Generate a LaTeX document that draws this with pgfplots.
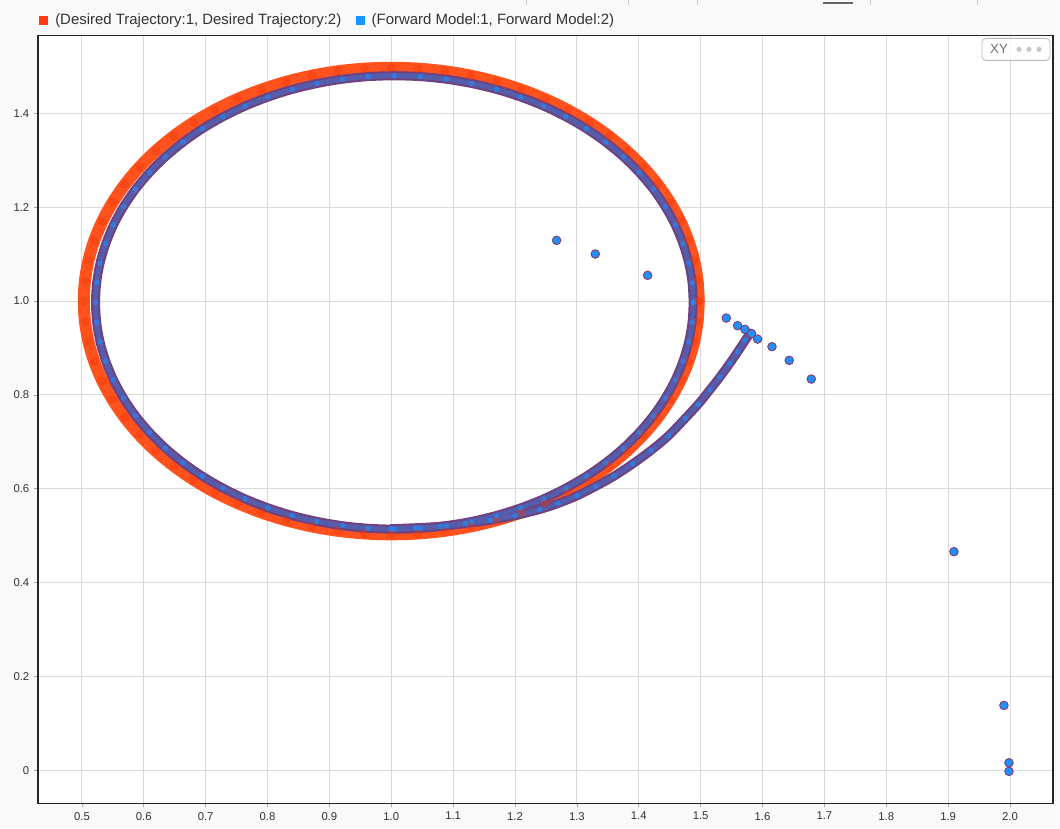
\documentclass[border=0pt]{standalone}
\usepackage{pgfplots}
\pgfplotsset{compat=1.18}
\usepackage{fontspec}
\setmainfont{Liberation Sans}
\definecolor{figbg}{RGB}{249,249,249}
\definecolor{gridc}{RGB}{217,217,217}
\definecolor{axisc}{RGB}{38,38,38}
\definecolor{labc}{RGB}{51,51,51}
\definecolor{orangeL}{RGB}{255,60,20}
\definecolor{orangeBand}{RGB}{255,82,28}
\definecolor{orangeDot}{RGB}{240,55,10}
\definecolor{blueL}{RGB}{25,150,250}
\definecolor{blueFill}{RGB}{30,144,255}
\definecolor{blueEdge}{RGB}{135,60,110}
\definecolor{blueBandOut}{RGB}{112,66,128}
\definecolor{blueBandIn}{RGB}{84,92,172}
\pgfplotstableread{
x y
1.580 0.932
1.572 0.916
1.560 0.892
1.547 0.867
1.531 0.838
1.515 0.811
1.496 0.780
1.475 0.750
1.448 0.713
1.420 0.682
1.390 0.653
1.360 0.627
1.330 0.605
1.300 0.585
1.270 0.569
1.240 0.556
1.200 0.543
1.160 0.533
1.120 0.526
1.080 0.520
1.040 0.517
1.000 0.515
}\tailtab
\pgfplotstableread{
x y
1.488 0.997
1.4862 1.0391
1.4807 1.0809
1.4715 1.1220
1.4589 1.1622
1.4427 1.2011
1.4233 1.2385
1.4006 1.2740
1.3750 1.3075
1.3465 1.3385
1.3155 1.3670
1.2820 1.3926
1.2465 1.4153
1.2091 1.4347
1.1702 1.4509
1.1300 1.4635
1.0889 1.4727
1.0471 1.4782
1.005 1.480
0.9629 1.4782
0.9211 1.4727
0.8800 1.4635
0.8398 1.4509
0.8009 1.4347
0.7635 1.4153
0.7280 1.3926
0.6945 1.3670
0.6635 1.3385
0.6350 1.3075
0.6094 1.2740
0.5867 1.2385
0.5673 1.2011
0.5511 1.1622
0.5385 1.1220
0.5293 1.0809
0.5238 1.0391
0.522 0.997
0.5238 0.9549
0.5293 0.9131
0.5385 0.8720
0.5511 0.8318
0.5673 0.7929
0.5867 0.7555
0.6094 0.7200
0.6350 0.6865
0.6635 0.6555
0.6945 0.6270
0.7280 0.6014
0.7635 0.5787
0.8009 0.5593
0.8398 0.5431
0.8800 0.5305
0.9211 0.5213
0.9629 0.5158
1.005 0.514
1.0471 0.5158
1.0889 0.5213
1.1300 0.5305
1.1702 0.5431
1.2091 0.5593
1.2465 0.5787
1.2820 0.6014
1.3155 0.6270
1.3465 0.6555
1.3750 0.6865
1.4006 0.7200
1.4233 0.7555
1.4427 0.7929
1.4589 0.8318
1.4715 0.8720
1.4807 0.9131
1.4862 0.9549
1.488 0.997
}\looptab
\pgfplotstableread{
x y
1.497 1.0
1.4951 1.0433
1.4895 1.0863
1.4801 1.1286
1.4670 1.1700
1.4504 1.2100
1.4304 1.2485
1.4071 1.2851
1.3807 1.3195
1.3514 1.3514
1.3195 1.3807
1.2851 1.4071
1.2485 1.4304
1.2100 1.4504
1.1700 1.4670
1.1286 1.4801
1.0863 1.4895
1.0433 1.4951
1.0 1.497
0.9567 1.4951
0.9137 1.4895
0.8714 1.4801
0.8300 1.4670
0.7900 1.4504
0.7515 1.4304
0.7149 1.4071
0.6805 1.3807
0.6486 1.3514
0.6193 1.3195
0.5929 1.2851
0.5696 1.2485
0.5496 1.2100
0.5330 1.1700
0.5199 1.1286
0.5105 1.0863
0.5049 1.0433
0.503 1.0
0.5049 0.9567
0.5105 0.9137
0.5199 0.8714
0.5330 0.8300
0.5496 0.7900
0.5696 0.7515
0.5929 0.7149
0.6193 0.6805
0.6486 0.6486
0.6805 0.6193
0.7149 0.5929
0.7515 0.5696
0.7900 0.5496
0.8300 0.5330
0.8714 0.5199
0.9137 0.5105
0.9567 0.5049
1.0 0.503
1.0433 0.5049
1.0863 0.5105
1.1286 0.5199
1.1700 0.5330
1.2100 0.5496
1.2485 0.5696
1.2851 0.5929
1.3195 0.6193
1.3514 0.6486
1.3807 0.6805
1.4071 0.7149
1.4304 0.7515
1.4504 0.7900
1.4670 0.8300
1.4801 0.8714
1.4895 0.9137
1.4951 0.9567
1.497 1.0
}\desiredtab
\pgfplotstableread{
x y
1.2672 1.1293
1.3297 1.1002
1.4143 1.0548
1.5414 0.9638
1.5597 0.9475
1.5716 0.9397
1.5823 0.9305
1.592 0.919
1.6153 0.9028
1.6432 0.8736
1.6788 0.8338
1.9094 0.466
1.9902 0.1385
1.9983 0.0163
1.9983 -0.002
}\sparsetab
\begin{document}
\begin{tikzpicture}
\fill[figbg] (-28.5pt,-18.75pt) rectangle (766.5pt,602.25pt);
% toolbar remnants
\foreach \xx in {366,442.5,494.25,624,704.25}{\draw[gray!40,line width=0.6pt] (\xx pt,602.25pt) -- (\xx pt,598.5pt);}
\draw[gray!80!black,line width=1.4pt] (588.75pt,600pt) -- (611.25pt,600pt);
\begin{axis}[
  at={(0,0)}, anchor=south west,
  scale only axis, width=761.25pt, height=576pt,
  xmin=0.429, xmax=2.0695, ymin=-0.0703, ymax=1.566,
  xtick={0.5,0.6,0.7,0.8,0.9,1.0,1.1,1.2,1.3,1.4,1.5,1.6,1.7,1.8,1.9,2.0},
  xticklabels={0.5,0.6,0.7,0.8,0.9,1.0,1.1,1.2,1.3,1.4,1.5,1.6,1.7,1.8,1.9,2.0},
  ytick={0,0.2,0.4,0.6,0.8,1.0,1.2,1.4},
  yticklabels={0,0.2,0.4,0.6,0.8,1.0,1.2,1.4},
  grid=major, major grid style={draw=gridc, line width=0.75pt},
  axis line style={draw=axisc, line width=0.9pt},
  tick style={draw=gray!70, line width=0.6pt}, major tick length=3pt, tick align=outside,
  xtick pos=bottom, ytick pos=left,
  ticklabel style={font=\fontsize{8.5}{10}\selectfont, text=labc},
  axis background/.style={fill=white},
]
% ---- Desired trajectory (dense markers shown as a band)
\addplot[no marks, smooth, line width=9pt, color=orangeBand, forget plot] table {\desiredtab};
\addplot[only marks, mark=*, mark size=3pt, color=orangeDot, opacity=0.35, forget plot] table {\desiredtab};
% ---- Forward model: dense band (tail and loop)
\addplot[no marks, smooth, line width=6.8pt, color=blueBandOut, line cap=round, forget plot] table {\tailtab};
\addplot[no marks, smooth, line width=6.8pt, color=blueBandOut, forget plot] table {\looptab};
\addplot[no marks, smooth, line width=3.6pt, color=blueBandIn, line cap=round, forget plot] table {\tailtab};
\addplot[no marks, smooth, line width=3.6pt, color=blueBandIn, forget plot] table {\looptab};
\addplot[only marks, mark=*, mark size=1.8pt, color=blueFill, opacity=0.55, forget plot] table {\looptab};
\addplot[only marks, mark=*, mark size=1.8pt, color=blueFill, opacity=0.55, forget plot] table {\tailtab};
% ---- Forward model: sparse samples
\addplot[only marks, mark=*, mark size=3.2pt, mark options={fill=blueFill, draw=blueEdge, line width=0.7pt}, forget plot] table {\sparsetab};
\end{axis}
% legend
\fill[orangeL] (0.75pt,583.5pt) rectangle (7.5pt,590.25pt);
\node[anchor=west, inner sep=0pt, font=\fontsize{11.2}{13}\selectfont, text=labc] at (12.75pt,586.9pt) {(Desired Trajectory:1, Desired Trajectory:2)};
\fill[blueL] (238.5pt,583.5pt) rectangle (245.25pt,590.25pt);
\node[anchor=west, inner sep=0pt, font=\fontsize{11.2}{13}\selectfont, text=labc] at (250.1pt,586.9pt) {(Forward Model:1, Forward Model:2)};
% XY button
\draw[draw=gray!55, fill=white, fill opacity=0.8, rounded corners=3pt, line width=0.6pt] (708pt,557.25pt) rectangle (759pt,573.75pt);
\node[font=\fontsize{10}{12}\selectfont, text=gray!90!black, inner sep=0pt] at (720.75pt,565.5pt) {XY};
\foreach \xx in {735.75,743.25,750.75}{\fill[gray!45] (\xx pt,565.5pt) circle (1.9pt);}
\end{tikzpicture}
\end{document}
